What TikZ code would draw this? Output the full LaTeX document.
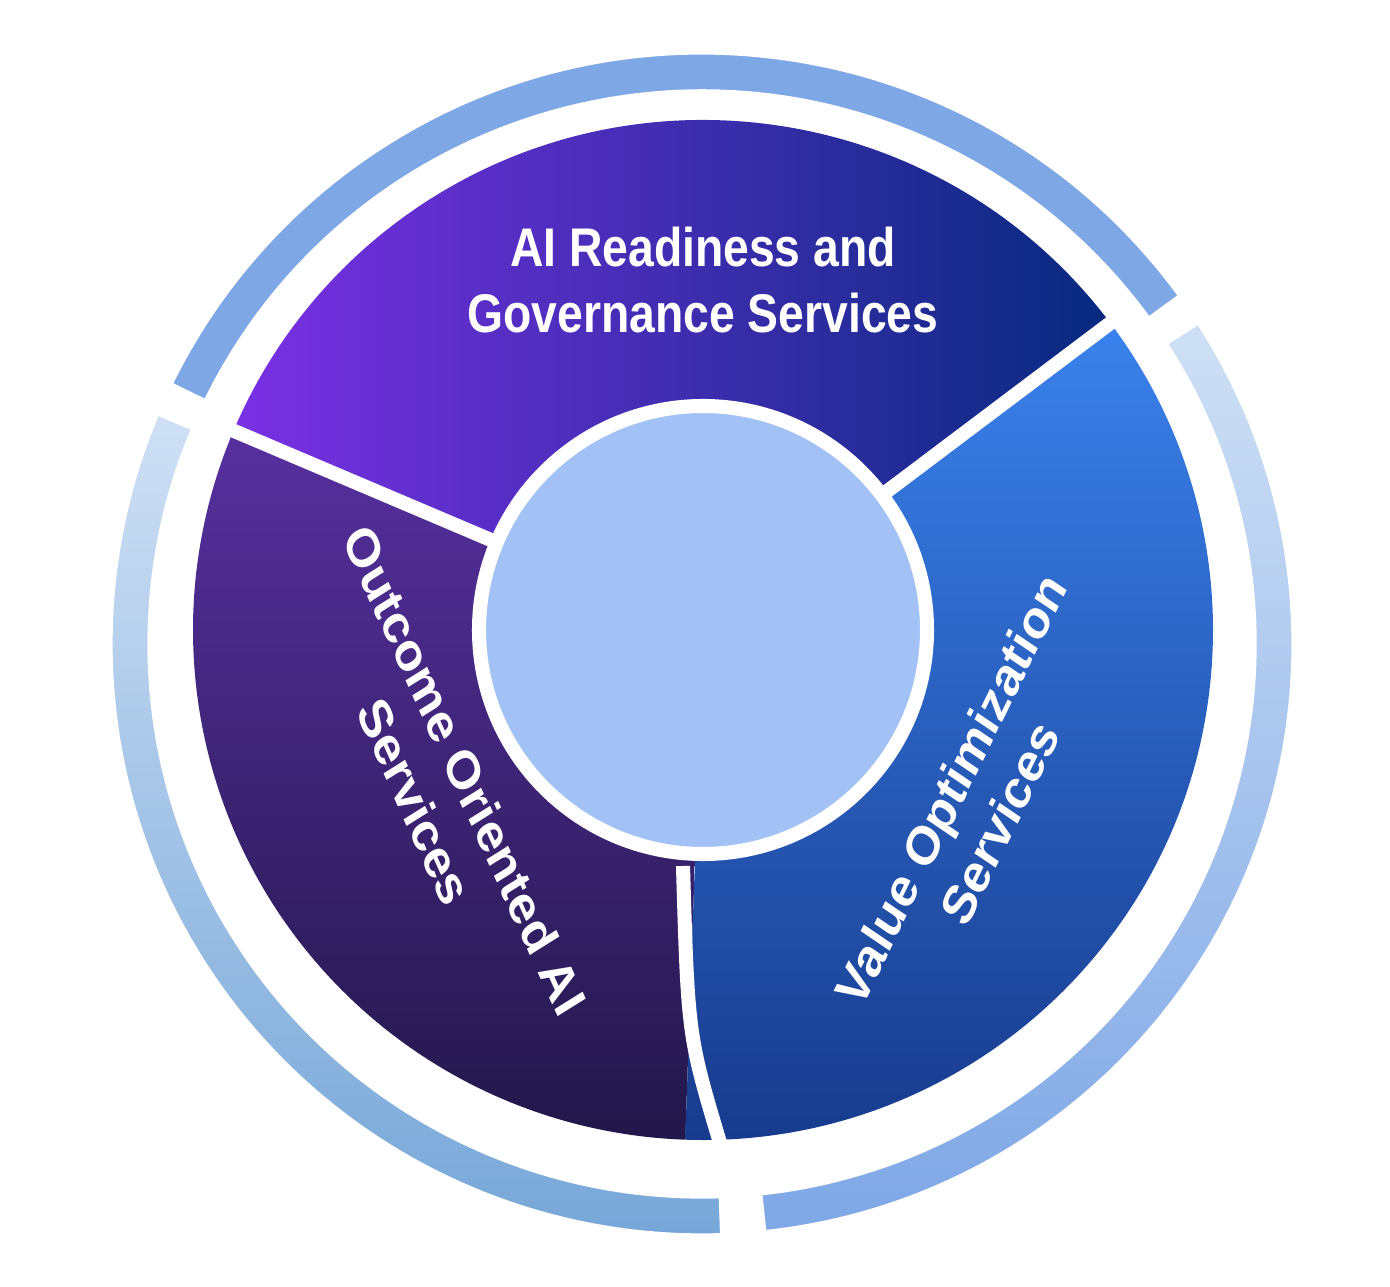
\documentclass[tikz,border=0pt]{standalone}
\usepackage{fontspec}
\setmainfont{Liberation Sans}
\definecolor{rA}{HTML}{B9D1F3}
\definecolor{rB}{HTML}{7EA7E6}
\definecolor{rC}{HTML}{CFE0F5}
\definecolor{rD}{HTML}{76A6D8}
\definecolor{tA}{HTML}{7A30E4}
\definecolor{tB}{HTML}{0552D8}
\definecolor{tC}{HTML}{062A7E}
\definecolor{lA}{HTML}{57309F}
\definecolor{lB}{HTML}{22174A}
\definecolor{vA}{HTML}{3A82EC}
\definecolor{vB}{HTML}{173A8C}
\definecolor{inn}{HTML}{A2C2F5}
\begin{document}
\begin{tikzpicture}[x=0.02cm,y=0.02cm,
  seg/.style={draw=white,line width=8},
  ringseg/.style={draw=white,line width=3},
  lbl/.style={text=white,font=\fontsize{31}{38}\selectfont\bfseries,align=center,xscale=0.85}]
\useasboundingbox (0,0) rectangle (1390,1286);
\coordinate (C) at (703,656);
\coordinate (R) at (702,642);
% outer ring
\shade[ringseg,left color=rB,middle color=rA,right color=rB] (R) ++(36:592) arc (36:154:592) -- ++(154:-40) arc (154:36:552) -- cycle;
\shade[ringseg,top color=rC,bottom color=rD] (R) ++(157:592) arc (157:272:592) -- ++(272:-40) arc (272:157:552) -- cycle;
\shade[ringseg,top color=rC,bottom color=rB] (R) ++(276:592) arc (276:393:592) -- ++(393:-40) arc (393:276:552) -- cycle;
% segments
\shade[left color=tA,middle color=tB,right color=tC]
  (C) ++(37:510) arc (37:157:510) -- ++(157:-280) arc (157:37:230) -- cycle;
\shade[top color=lA,bottom color=lB]
  (C) ++(157:510) arc (157:268:510) -- ++(268:-280) arc (268:157:230) -- cycle;
\shade[shading angle=135,top color=vA,bottom color=vB]
  (C) ++(268:510) arc (268:397:510) -- ++(397:-280) arc (397:268:230) -- cycle;
% gaps
\draw[seg] (C) ++(157:225) -- ++(157:300);
\draw[seg] (C) ++(37:225) -- ++(37:300);
\draw[seg] (683,420) .. controls (688,250) .. (721,140);
\draw[seg, fill=inn] (C) circle (224);
\node[lbl] (t1) at (703,1006) {AI Readiness and\\Governance Services};
\node[lbl,rotate=-62] (t2) at (440,500) {Outcome Oriented AI\\Services};
\node[lbl,rotate=60] (t3) at (975,480) {Value Optimization\\Services};
\end{tikzpicture}
\end{document}
